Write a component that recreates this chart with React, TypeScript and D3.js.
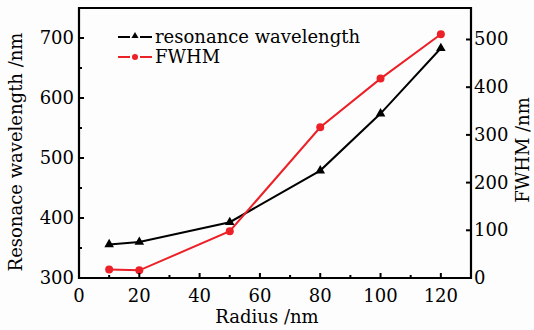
import React from "react";
import * as d3 from "d3";

const radius = [10, 20, 50, 80, 100, 120];
const wavelength = [356, 360, 393, 479, 574, 683];
const fwhm = [18, 16, 98, 316, 418, 511];
const xTicks = [0, 20, 40, 60, 80, 100, 120];
const xMinor = [10, 30, 50, 70, 90, 110];
const yLeftTicks = [300, 400, 500, 600, 700];
const yLeftMinor = [350, 450, 550, 650];
const yRightTicks = [0, 100, 200, 300, 400, 500];

const W = 534, H = 330;
const L = 79, R = 471, T = 8, B = 278;
const FONT = "'DejaVu Serif', serif";
const FS = 18;

export default function App() {
  const x = d3.scaleLinear().domain([0, 130]).range([L, R]);
  const yl = d3.scaleLinear().domain([300, 750]).range([B, T]);
  const yr = d3.scaleLinear().domain([0, 566]).range([B, T]);
  const lineL = d3.line<number>().x((_, i) => x(radius[i])).y((d) => yl(d));
  const lineR = d3.line<number>().x((_, i) => x(radius[i])).y((d) => yr(d));
  const tri = d3.symbol().type(d3.symbolTriangle).size(40)();
  const triSmall = d3.symbol().type(d3.symbolTriangle).size(22)();

  return (
    <svg width={W} height={H} style={{ position: "absolute", left: 0, top: 0, background: "#fdfdfd" }}>
      <rect x={0} y={0} width={W} height={H} fill="#fdfdfd" />
      {/* series */}
      <path d={lineL(wavelength) || ""} fill="none" stroke="#000" strokeWidth={2} />
      {wavelength.map((v, i) => (
        <path key={"t" + i} d={tri || ""} transform={`translate(${x(radius[i])},${yl(v)})`} fill="#000" />
      ))}
      <path d={lineR(fwhm) || ""} fill="none" stroke="#ec2027" strokeWidth={2} />
      {fwhm.map((v, i) => (
        <circle key={"c" + i} cx={x(radius[i])} cy={yr(v)} r={4} fill="#ec2027" />
      ))}
      {/* frame */}
      <path d={`M${L},${T}H${R}V${B}H${L}Z`} fill="none" stroke="#000" strokeWidth={2.2} />
      {/* x ticks */}
      {xTicks.map((t) => (
        <g key={"x" + t}>
          <line x1={x(t)} x2={x(t)} y1={B} y2={B - 5} stroke="#000" strokeWidth={2} />
          <text x={x(t)} y={B + 24} fontFamily={FONT} fontSize={FS} textAnchor="middle">{t}</text>
        </g>
      ))}
      {xMinor.map((t) => (
        <line key={"xm" + t} x1={x(t)} x2={x(t)} y1={B} y2={B - 3} stroke="#000" strokeWidth={2} />
      ))}
      {/* left ticks */}
      {yLeftTicks.map((t) => (
        <g key={"yl" + t}>
          <line x1={L} x2={L + 5} y1={yl(t)} y2={yl(t)} stroke="#000" strokeWidth={2} />
          <text x={L - 5} y={yl(t) + 6} fontFamily={FONT} fontSize={FS} textAnchor="end">{t}</text>
        </g>
      ))}
      {yLeftMinor.map((t) => (
        <line key={"ylm" + t} x1={L} x2={L + 3} y1={yl(t)} y2={yl(t)} stroke="#000" strokeWidth={2} />
      ))}
      {/* right ticks */}
      {yRightTicks.map((t) => (
        <g key={"yr" + t}>
          <line x1={R} x2={R - 5} y1={yr(t)} y2={yr(t)} stroke="#000" strokeWidth={2} />
          <text x={R + 3} y={yr(t) + 6} fontFamily={FONT} fontSize={FS} textAnchor="start">{t}</text>
        </g>
      ))}
      {/* axis labels */}
      <text x={267} y={323} fontFamily={FONT} fontSize={FS} textAnchor="middle">Radius /nm</text>
      <text transform={`translate(22,152) rotate(-90)`} fontFamily={FONT} fontSize={FS} textAnchor="middle">Resonace wavelength /nm</text>
      <text transform={`translate(529,150) rotate(-90)`} fontFamily={FONT} fontSize={FS} textAnchor="middle">FWHM /nm</text>
      {/* legend */}
      <g>
        <line x1={118} x2={130} y1={37} y2={37} stroke="#000" strokeWidth={2} />
        <line x1={140} x2={152} y1={37} y2={37} stroke="#000" strokeWidth={2} />
        <path d={triSmall || ""} transform="translate(135,36)" fill="#000" />
        <text x={155} y={43} fontFamily={FONT} fontSize={FS}>resonance wavelength</text>
        <line x1={118} x2={130} y1={57} y2={57} stroke="#ec2027" strokeWidth={2} />
        <line x1={140} x2={152} y1={57} y2={57} stroke="#ec2027" strokeWidth={2} />
        <circle cx={135} cy={57} r={3} fill="#ec2027" />
        <text x={155} y={63} fontFamily={FONT} fontSize={FS}>FWHM</text>
      </g>
    </svg>
  );
}
